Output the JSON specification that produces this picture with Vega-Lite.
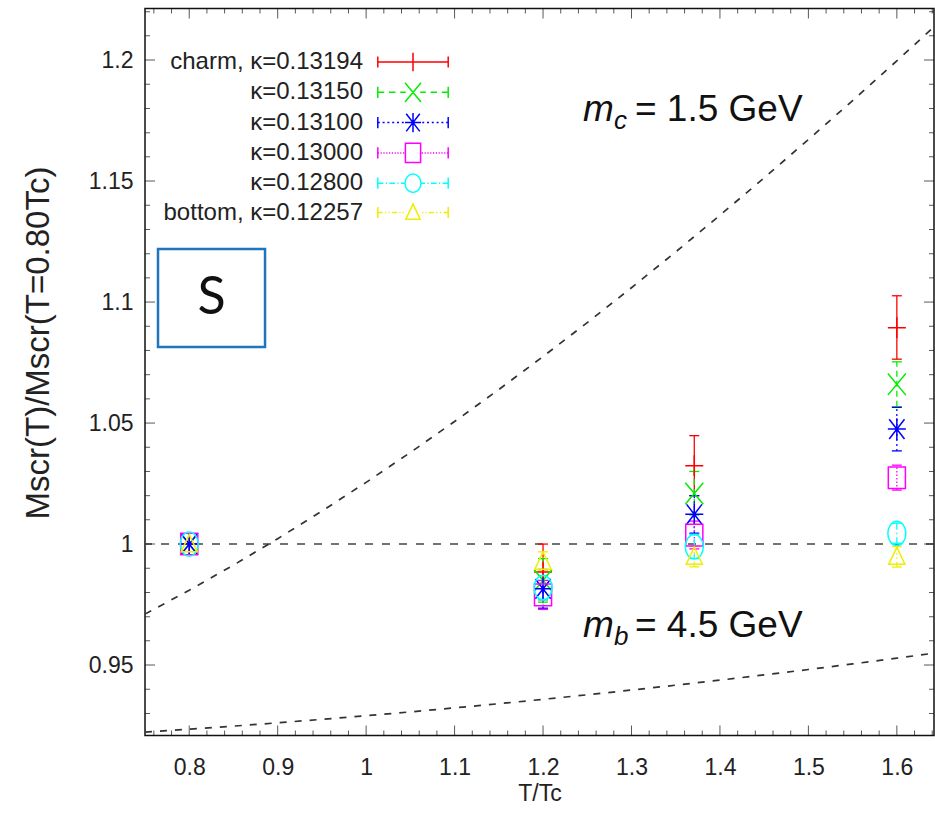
{
  "$schema": "https://vega.github.io/schema/vega-lite/v6.json",
  "width": 789,
  "height": 727,
  "autosize": {"type": "none"},
  "padding": {"left": 145, "top": 8.5, "right": 1, "bottom": 94.5},
  "background": "white",
  "config": {
    "view": {"stroke": "#111", "strokeWidth": 1.5},
    "font": "Liberation Sans"
  },
  "datasets": {
    "ref": [{"v": 1.0}],
    "pts": [
      {"T": 0.8, "v": 1.0, "lo": 1.0, "hi": 1.0, "s": "charm, κ=0.13194"},
      {"T": 0.8, "v": 1.0, "lo": 1.0, "hi": 1.0, "s": "κ=0.13150"},
      {"T": 0.8, "v": 1.0, "lo": 1.0, "hi": 1.0, "s": "κ=0.13100"},
      {"T": 0.8, "v": 1.0, "lo": 1.0, "hi": 1.0, "s": "κ=0.13000"},
      {"T": 0.8, "v": 1.0, "lo": 1.0, "hi": 1.0, "s": "κ=0.12800"},
      {"T": 0.8, "v": 1.0, "lo": 1.0, "hi": 1.0, "s": "bottom, κ=0.12257"},
      {"T": 1.2, "v": 0.9885, "lo": 0.977, "hi": 1.0, "s": "charm, κ=0.13194"},
      {"T": 1.2, "v": 0.985, "lo": 0.976, "hi": 0.994, "s": "κ=0.13150"},
      {"T": 1.2, "v": 0.9815, "lo": 0.9735, "hi": 0.9895, "s": "κ=0.13100"},
      {"T": 1.2, "v": 0.979, "lo": 0.973, "hi": 0.985, "s": "κ=0.13000"},
      {"T": 1.2, "v": 0.982, "lo": 0.977, "hi": 0.987, "s": "κ=0.12800"},
      {"T": 1.2, "v": 0.9928, "lo": 0.9888, "hi": 0.9968, "s": "bottom, κ=0.12257"},
      {"T": 1.371, "v": 1.0324, "lo": 1.02, "hi": 1.0448, "s": "charm, κ=0.13194"},
      {"T": 1.371, "v": 1.0209, "lo": 1.012, "hi": 1.03, "s": "κ=0.13150"},
      {"T": 1.371, "v": 1.0123, "lo": 1.0045, "hi": 1.02, "s": "κ=0.13100"},
      {"T": 1.371, "v": 1.0037, "lo": 0.998, "hi": 1.0095, "s": "κ=0.13000"},
      {"T": 1.371, "v": 0.9989, "lo": 0.994, "hi": 1.004, "s": "κ=0.12800"},
      {"T": 1.371, "v": 0.9948, "lo": 0.9906, "hi": 0.999, "s": "bottom, κ=0.12257"},
      {"T": 1.6, "v": 1.0894, "lo": 1.0764, "hi": 1.1026, "s": "charm, κ=0.13194"},
      {"T": 1.6, "v": 1.066, "lo": 1.0567, "hi": 1.0753, "s": "κ=0.13150"},
      {"T": 1.6, "v": 1.0475, "lo": 1.0385, "hi": 1.0565, "s": "κ=0.13100"},
      {"T": 1.6, "v": 1.0274, "lo": 1.0223, "hi": 1.0326, "s": "κ=0.13000"},
      {"T": 1.6, "v": 1.0044, "lo": 1.0003, "hi": 1.0086, "s": "κ=0.12800"},
      {"T": 1.6, "v": 0.9948, "lo": 0.9905, "hi": 0.999, "s": "bottom, κ=0.12257"}
    ],
    "curves": [
      {"T": 0.75, "v": 0.97106, "c": "charm"},
      {"T": 0.8, "v": 0.98092, "c": "charm"},
      {"T": 0.85, "v": 0.99131, "c": "charm"},
      {"T": 0.9, "v": 1.00222, "c": "charm"},
      {"T": 0.95, "v": 1.01362, "c": "charm"},
      {"T": 1.0, "v": 1.0255, "c": "charm"},
      {"T": 1.05, "v": 1.03785, "c": "charm"},
      {"T": 1.1, "v": 1.05064, "c": "charm"},
      {"T": 1.15, "v": 1.06385, "c": "charm"},
      {"T": 1.2, "v": 1.07749, "c": "charm"},
      {"T": 1.25, "v": 1.09152, "c": "charm"},
      {"T": 1.3, "v": 1.10593, "c": "charm"},
      {"T": 1.35, "v": 1.12072, "c": "charm"},
      {"T": 1.4, "v": 1.13586, "c": "charm"},
      {"T": 1.45, "v": 1.15134, "c": "charm"},
      {"T": 1.5, "v": 1.16715, "c": "charm"},
      {"T": 1.55, "v": 1.18327, "c": "charm"},
      {"T": 1.6, "v": 1.19969, "c": "charm"},
      {"T": 1.642, "v": 1.21371, "c": "charm"},
      {"T": 0.75, "v": 0.9223, "c": "bottom"},
      {"T": 0.8, "v": 0.9235, "c": "bottom"},
      {"T": 0.85, "v": 0.92478, "c": "bottom"},
      {"T": 0.9, "v": 0.92614, "c": "bottom"},
      {"T": 0.95, "v": 0.92757, "c": "bottom"},
      {"T": 1.0, "v": 0.92908, "c": "bottom"},
      {"T": 1.05, "v": 0.93066, "c": "bottom"},
      {"T": 1.1, "v": 0.93231, "c": "bottom"},
      {"T": 1.15, "v": 0.93404, "c": "bottom"},
      {"T": 1.2, "v": 0.93584, "c": "bottom"},
      {"T": 1.25, "v": 0.93772, "c": "bottom"},
      {"T": 1.3, "v": 0.93967, "c": "bottom"},
      {"T": 1.35, "v": 0.94169, "c": "bottom"},
      {"T": 1.4, "v": 0.94378, "c": "bottom"},
      {"T": 1.45, "v": 0.94594, "c": "bottom"},
      {"T": 1.5, "v": 0.94817, "c": "bottom"},
      {"T": 1.55, "v": 0.95048, "c": "bottom"},
      {"T": 1.6, "v": 0.95285, "c": "bottom"},
      {"T": 1.642, "v": 0.9549, "c": "bottom"}
    ],
    "xt": [
      {"T": 0.76, "k": "minor"}, {"T": 0.78, "k": "minor"}, {"T": 0.8, "k": "major"}, {"T": 0.82, "k": "minor"}, {"T": 0.84, "k": "minor"},
      {"T": 0.86, "k": "minor"}, {"T": 0.88, "k": "minor"}, {"T": 0.9, "k": "major"}, {"T": 0.92, "k": "minor"}, {"T": 0.94, "k": "minor"},
      {"T": 0.96, "k": "minor"}, {"T": 0.98, "k": "minor"}, {"T": 1.0, "k": "major"}, {"T": 1.02, "k": "minor"}, {"T": 1.04, "k": "minor"},
      {"T": 1.06, "k": "minor"}, {"T": 1.08, "k": "minor"}, {"T": 1.1, "k": "major"}, {"T": 1.12, "k": "minor"}, {"T": 1.14, "k": "minor"},
      {"T": 1.16, "k": "minor"}, {"T": 1.18, "k": "minor"}, {"T": 1.2, "k": "major"}, {"T": 1.22, "k": "minor"}, {"T": 1.24, "k": "minor"},
      {"T": 1.26, "k": "minor"}, {"T": 1.28, "k": "minor"}, {"T": 1.3, "k": "major"}, {"T": 1.32, "k": "minor"}, {"T": 1.34, "k": "minor"},
      {"T": 1.36, "k": "minor"}, {"T": 1.38, "k": "minor"}, {"T": 1.4, "k": "major"}, {"T": 1.42, "k": "minor"}, {"T": 1.44, "k": "minor"},
      {"T": 1.46, "k": "minor"}, {"T": 1.48, "k": "minor"}, {"T": 1.5, "k": "major"}, {"T": 1.52, "k": "minor"}, {"T": 1.54, "k": "minor"},
      {"T": 1.56, "k": "minor"}, {"T": 1.58, "k": "minor"}, {"T": 1.6, "k": "major"}, {"T": 1.62, "k": "minor"}, {"T": 1.64, "k": "minor"}
    ],
    "yt": [
      {"v": 0.93, "k": "minor"}, {"v": 0.94, "k": "minor"}, {"v": 0.95, "k": "major"}, {"v": 0.96, "k": "minor"}, {"v": 0.97, "k": "minor"},
      {"v": 0.98, "k": "minor"}, {"v": 0.99, "k": "minor"}, {"v": 1.0, "k": "major"}, {"v": 1.01, "k": "minor"}, {"v": 1.02, "k": "minor"},
      {"v": 1.03, "k": "minor"}, {"v": 1.04, "k": "minor"}, {"v": 1.05, "k": "major"}, {"v": 1.06, "k": "minor"}, {"v": 1.07, "k": "minor"},
      {"v": 1.08, "k": "minor"}, {"v": 1.09, "k": "minor"}, {"v": 1.1, "k": "major"}, {"v": 1.11, "k": "minor"}, {"v": 1.12, "k": "minor"},
      {"v": 1.13, "k": "minor"}, {"v": 1.14, "k": "minor"}, {"v": 1.15, "k": "major"}, {"v": 1.16, "k": "minor"}, {"v": 1.17, "k": "minor"},
      {"v": 1.18, "k": "minor"}, {"v": 1.19, "k": "minor"}, {"v": 1.2, "k": "major"}, {"v": 1.21, "k": "minor"}, {"v": 1.22, "k": "minor"}
    ],
    "box": [
      {"T": 0.7647, "T2": 0.8857, "v": 1.1219, "v2": 1.0814, "cT": 0.8252, "cv": 1.1016, "label": "S"}
    ],
    "ann": [
      {"T": 1.2451, "v": 1.1748, "sub": "c", "rest": "= 1.5 GeV"},
      {"T": 1.2451, "v": 0.96157, "sub": "b", "rest": "= 4.5 GeV"}
    ]
  },
  "layer": [
    {
      "data": {"name": "pts"},
      "transform": [{"filter": "false"}],
      "mark": {"type": "point", "size": 256, "filled": false, "strokeWidth": 1.5, "opacity": 1},
      "encoding": {
        "x": {"field": "T", "type": "quantitative", "scale": {"domain": [0.75, 1.642], "nice": false, "zero": false}, "axis": null},
        "y": {"field": "v", "type": "quantitative", "scale": {"domain": [0.9209, 1.2213], "nice": false, "zero": false}, "axis": null},
        "shape": {"field": "s", "type": "nominal",
          "scale": {"domain": ["charm, κ=0.13194","κ=0.13150","κ=0.13100","κ=0.13000","κ=0.12800","bottom, κ=0.12257"],
                    "range": ["M-4.4,0H4.4M-4.4,-0.7V0.7M4.4,-0.7V0.7M-1,0H1M0,-1.15V1.15",
                              "M-4.4,0H-3.6M-3,0H-2.2M-1.6,0H-0.9M0.9,0H1.6M2.2,0H3M3.6,0H4.4M-4.4,-0.7V0.7M4.4,-0.7V0.7M-1,-1.2L1,1.2M-1,1.2L1,-1.2",
                              "M-4.4,0H-4.15M-3.8,0H-3.55M-3.2,0H-2.95M-2.6,0H-2.35M-2,0H-1.75M-1.4,0H-1.15M1.15,0H1.4M1.75,0H2M2.35,0H2.6M2.95,0H3.2M3.55,0H3.8M4.15,0H4.4M-4.4,-0.7V0.7M4.4,-0.7V0.7M-1,0H1M0,-1.2V1.2M-0.85,-1.1L0.85,1.1M-0.85,1.1L0.85,-1.1",
                              "M-4.4,0H-4.25M-4.05,0H-3.9M-3.7,0H-3.55M-3.35,0H-3.2M-3,0H-2.85M-2.65,0H-2.5M-2.3,0H-2.15M-1.95,0H-1.8M-1.6,0H-1.45M-1.25,0H-1.1M1.1,0H1.25M1.45,0H1.6M1.8,0H1.95M2.15,0H2.3M2.5,0H2.65M2.85,0H3M3.2,0H3.35M3.55,0H3.7M3.9,0H4.05M4.25,0H4.4M-4.4,-0.7V0.7M4.4,-0.7V0.7M-0.95,-1.2H0.95V1.2H-0.95Z",
                              "M-4.4,0H-3.7M-3.4,0H-3.25M-2.95,0H-2.25M-1.95,0H-1.8M-1.5,0H-1M1,0H1.5M1.8,0H1.95M2.25,0H2.95M3.25,0H3.4M3.7,0H4.4M-4.4,-0.7V0.7M4.4,-0.7V0.7M-1,0A1,1.15,0,1,0,1,0A1,1.15,0,1,0,-1,0Z",
                              "M-4.4,0H-3.8M-3.5,0H-3.35M-3.05,0H-2.9M-2.6,0H-2M-1.7,0H-1.55M-1.3,0H-1.15M1.15,0H1.3M1.55,0H1.7M2,0H2.6M2.9,0H3.05M3.35,0H3.5M3.8,0H4.4M-4.4,-0.7V0.7M4.4,-0.7V0.7M0,-1.05L0.9,0.85H-0.9Z"]}},
        "color": {"field": "s", "type": "nominal",
          "scale": {"domain": ["charm, κ=0.13194","κ=0.13150","κ=0.13100","κ=0.13000","κ=0.12800","bottom, κ=0.12257"],
                    "range": ["#ff0000","#00ee00","#0000ff","#ff00ff","#00ffff","#eeee00"]},
          "legend": {
            "orient": "none",
            "legendX": 256,
            "legendY": 41.5,
            "title": null,
            "padding": 0,
            "labelFont": "Liberation Sans",
            "labelFontSize": 24,
            "labelColor": "#222",
            "labelAlign": "right",
            "labelOffset": -62,
            "labelLimit": 400,
            "symbolSize": 256,
            "symbolStrokeWidth": 1.5,
            "rowPadding": 4.3
          }
        }
      }
    },
    {
      "data": {"name": "ref"},
      "mark": {"type": "rule", "strokeDash": [8, 9], "color": "#444", "strokeWidth": 1.6},
      "encoding": {
        "y": {"field": "v", "type": "quantitative", "scale": {"domain": [0.9209, 1.2213], "nice": false, "zero": false}, "axis": null}
      }
    },
    {
      "data": {"name": "curves"},
      "mark": {"type": "line", "strokeDash": [7, 8], "color": "#333", "strokeWidth": 1.7, "clip": true},
      "encoding": {
        "x": {
          "field": "T", "type": "quantitative",
          "scale": {"domain": [0.75, 1.642], "nice": false, "zero": false},
          "axis": {
            "orient": "bottom",
            "values": [0.8, 0.9, 1.0, 1.1, 1.2, 1.3, 1.4, 1.5, 1.6],
            "labelExpr": "format(datum.value, '.1~f')",
            "ticks": false,
            "tickSize": 0,
            "domain": false,
            "grid": false,
            "labelOverlap": false,
            "labelFlush": false,
            "labelBound": false,
            "labelFont": "Liberation Sans",
            "labelFontSize": 23,
            "labelColor": "#222",
            "labelPadding": 21,
            "title": "T/Tc",
            "titleFont": "Liberation Sans",
            "titleFontSize": 23,
            "titleFontWeight": "normal",
            "titleColor": "#222",
            "titlePadding": 3
          }
        },
        "y": {
          "field": "v", "type": "quantitative",
          "scale": {"domain": [0.9209, 1.2213], "nice": false, "zero": false},
          "axis": {
            "orient": "left",
            "values": [0.95, 1.0, 1.05, 1.1, 1.15, 1.2],
            "labelExpr": "format(datum.value, '.2~f')",
            "ticks": false,
            "tickSize": 0,
            "domain": false,
            "grid": false,
            "labelOverlap": false,
            "labelFlush": false,
            "labelBound": false,
            "labelFont": "Liberation Sans",
            "labelFontSize": 23,
            "labelColor": "#222",
            "labelPadding": 12,
            "title": "Mscr(T)/Mscr(T=0.80Tc)",
            "titleFont": "Liberation Sans",
            "titleFontSize": 33,
            "titleFontWeight": "normal",
            "titleColor": "#222",
            "titleBaseline": "middle",
            "titleX": -107,
            "titleY": 334
          }
        },
        "detail": {"field": "c"}
      }
    },
    {
      "data": {"name": "xt"},
      "mark": {"type": "tick", "orient": "vertical", "thickness": 1, "color": "#111", "clip": true},
      "encoding": {
        "x": {"field": "T", "type": "quantitative", "scale": {"domain": [0.75, 1.642], "nice": false, "zero": false}, "axis": null},
        "y": {"datum": 0.9209, "type": "quantitative", "scale": {"domain": [0.9209, 1.2213], "nice": false, "zero": false}, "axis": null},
        "size": {"field": "k", "type": "nominal", "scale": {"domain": ["major", "minor"], "range": [20, 10]}, "legend": null}
      }
    },
    {
      "data": {"name": "xt"},
      "mark": {"type": "tick", "orient": "vertical", "thickness": 1, "color": "#111", "clip": true},
      "encoding": {
        "x": {"field": "T", "type": "quantitative", "scale": {"domain": [0.75, 1.642], "nice": false, "zero": false}, "axis": null},
        "y": {"datum": 1.2213, "type": "quantitative", "scale": {"domain": [0.9209, 1.2213], "nice": false, "zero": false}, "axis": null},
        "size": {"field": "k", "type": "nominal", "legend": null}
      }
    },
    {
      "data": {"name": "yt"},
      "mark": {"type": "tick", "orient": "horizontal", "thickness": 1, "color": "#111", "clip": true},
      "encoding": {
        "y": {"field": "v", "type": "quantitative", "scale": {"domain": [0.9209, 1.2213], "nice": false, "zero": false}, "axis": null},
        "x": {"datum": 0.75, "type": "quantitative", "scale": {"domain": [0.75, 1.642], "nice": false, "zero": false}, "axis": null},
        "size": {"field": "k", "type": "nominal", "legend": null}
      }
    },
    {
      "data": {"name": "yt"},
      "mark": {"type": "tick", "orient": "horizontal", "thickness": 1, "color": "#111", "clip": true},
      "encoding": {
        "y": {"field": "v", "type": "quantitative", "scale": {"domain": [0.9209, 1.2213], "nice": false, "zero": false}, "axis": null},
        "x": {"datum": 1.642, "type": "quantitative", "scale": {"domain": [0.75, 1.642], "nice": false, "zero": false}, "axis": null},
        "size": {"field": "k", "type": "nominal", "legend": null}
      }
    },
    {
      "data": {"name": "pts"},
      "mark": {"type": "rule", "strokeWidth": 1.3},
      "encoding": {
        "x": {"field": "T", "type": "quantitative", "scale": {"domain": [0.75, 1.642], "nice": false, "zero": false}, "axis": null},
        "y": {"field": "lo", "type": "quantitative", "scale": {"domain": [0.9209, 1.2213], "nice": false, "zero": false}, "axis": null},
        "y2": {"field": "hi"},
        "color": {"field": "s", "type": "nominal", "legend": null,
          "scale": {"domain": ["charm, κ=0.13194","κ=0.13150","κ=0.13100","κ=0.13000","κ=0.12800","bottom, κ=0.12257"],
                    "range": ["#ff0000","#00ee00","#0000ff","#ff00ff","#00ffff","#eeee00"]}},
        "strokeDash": {"field": "s", "type": "nominal", "legend": null,
          "scale": {"domain": ["charm, κ=0.13194","κ=0.13150","κ=0.13100","κ=0.13000","κ=0.12800","bottom, κ=0.12257"],
                    "range": [[1,0],[6,4],[2,3],[1.5,2],[6,3,1.5,3],[5,3,1.5,3,1.5,3]]}}
      }
    },
    {
      "data": {"name": "pts"},
      "mark": {"type": "point", "shape": "M-1,0H1", "size": 100, "filled": false, "strokeWidth": 1.3, "opacity": 1},
      "encoding": {
        "x": {"field": "T", "type": "quantitative", "scale": {"domain": [0.75, 1.642], "nice": false, "zero": false}, "axis": null},
        "y": {"field": "lo", "type": "quantitative", "scale": {"domain": [0.9209, 1.2213], "nice": false, "zero": false}, "axis": null},
        "color": {"field": "s", "type": "nominal", "legend": null,
          "scale": {"domain": ["charm, κ=0.13194","κ=0.13150","κ=0.13100","κ=0.13000","κ=0.12800","bottom, κ=0.12257"],
                    "range": ["#ff0000","#00ee00","#0000ff","#ff00ff","#00ffff","#eeee00"]}}
      }
    },
    {
      "data": {"name": "pts"},
      "mark": {"type": "point", "shape": "M-1,0H1", "size": 100, "filled": false, "strokeWidth": 1.3, "opacity": 1},
      "encoding": {
        "x": {"field": "T", "type": "quantitative", "scale": {"domain": [0.75, 1.642], "nice": false, "zero": false}, "axis": null},
        "y": {"field": "hi", "type": "quantitative", "scale": {"domain": [0.9209, 1.2213], "nice": false, "zero": false}, "axis": null},
        "color": {"field": "s", "type": "nominal", "legend": null,
          "scale": {"domain": ["charm, κ=0.13194","κ=0.13150","κ=0.13100","κ=0.13000","κ=0.12800","bottom, κ=0.12257"],
                    "range": ["#ff0000","#00ee00","#0000ff","#ff00ff","#00ffff","#eeee00"]}}
      }
    },
    {
      "data": {"name": "pts"},
      "mark": {"type": "point", "size": 324, "filled": false, "strokeWidth": 1.5, "opacity": 1},
      "encoding": {
        "x": {"field": "T", "type": "quantitative", "scale": {"domain": [0.75, 1.642], "nice": false, "zero": false}, "axis": null},
        "y": {"field": "v", "type": "quantitative", "scale": {"domain": [0.9209, 1.2213], "nice": false, "zero": false}, "axis": null},
        "shape": {"field": "s", "type": "nominal", "legend": null,
          "scale": {"domain": ["charm, κ=0.13194","κ=0.13150","κ=0.13100","κ=0.13000","κ=0.12800","bottom, κ=0.12257"],
                    "range": ["M-1,0H1M0,-1.15V1.15",
                              "M-1,-1.2L1,1.2M-1,1.2L1,-1.2",
                              "M-1,0H1M0,-1.2V1.2M-0.85,-1.1L0.85,1.1M-0.85,1.1L0.85,-1.1",
                              "M-0.95,-1.2H0.95V1.2H-0.95Z",
                              "M-1,0A1,1.35,0,1,0,1,0A1,1.35,0,1,0,-1,0Z",
                              "M0,-1.05L0.9,0.85H-0.9Z"]}},
        "color": {"field": "s", "type": "nominal", "legend": null,
          "scale": {"domain": ["charm, κ=0.13194","κ=0.13150","κ=0.13100","κ=0.13000","κ=0.12800","bottom, κ=0.12257"],
                    "range": ["#ff0000","#00ee00","#0000ff","#ff00ff","#00ffff","#eeee00"]}}
      }
    },
    {
      "data": {"name": "box"},
      "mark": {"type": "rect", "fill": "white", "stroke": "#1f74bd", "strokeWidth": 2.5},
      "encoding": {
        "x": {"field": "T", "type": "quantitative", "scale": {"domain": [0.75, 1.642], "nice": false, "zero": false}, "axis": null},
        "x2": {"field": "T2"},
        "y": {"field": "v", "type": "quantitative", "scale": {"domain": [0.9209, 1.2213], "nice": false, "zero": false}, "axis": null},
        "y2": {"field": "v2"}
      }
    },
    {
      "data": {"name": "box"},
      "mark": {"type": "text", "font": "Lato", "fontStyle": "normal", "fontSize": 52, "color": "#111", "align": "center", "baseline": "middle"},
      "encoding": {
        "x": {"field": "cT", "type": "quantitative", "scale": {"domain": [0.75, 1.642], "nice": false, "zero": false}, "axis": null},
        "y": {"field": "cv", "type": "quantitative", "scale": {"domain": [0.9209, 1.2213], "nice": false, "zero": false}, "axis": null},
        "text": {"field": "label"}
      }
    },
    {
      "data": {"name": "ann"},
      "mark": {"type": "text", "text": "m", "font": "Liberation Sans", "fontStyle": "italic", "fontSize": 37, "color": "#111", "align": "left", "baseline": "alphabetic"},
      "encoding": {
        "x": {"field": "T", "type": "quantitative", "scale": {"domain": [0.75, 1.642], "nice": false, "zero": false}, "axis": null},
        "y": {"field": "v", "type": "quantitative", "scale": {"domain": [0.9209, 1.2213], "nice": false, "zero": false}, "axis": null}
      }
    },
    {
      "data": {"name": "ann"},
      "mark": {"type": "text", "font": "Liberation Sans", "fontStyle": "italic", "fontSize": 26, "color": "#111", "align": "left", "baseline": "alphabetic", "dx": 31, "dy": 8},
      "encoding": {
        "x": {"field": "T", "type": "quantitative", "scale": {"domain": [0.75, 1.642], "nice": false, "zero": false}, "axis": null},
        "y": {"field": "v", "type": "quantitative", "scale": {"domain": [0.9209, 1.2213], "nice": false, "zero": false}, "axis": null},
        "text": {"field": "sub"}
      }
    },
    {
      "data": {"name": "ann"},
      "mark": {"type": "text", "font": "Liberation Sans", "fontSize": 37, "color": "#111", "align": "left", "baseline": "alphabetic", "dx": 52},
      "encoding": {
        "x": {"field": "T", "type": "quantitative", "scale": {"domain": [0.75, 1.642], "nice": false, "zero": false}, "axis": null},
        "y": {"field": "v", "type": "quantitative", "scale": {"domain": [0.9209, 1.2213], "nice": false, "zero": false}, "axis": null},
        "text": {"field": "rest"}
      }
    }
  ],
  "resolve": {
    "scale": {"color": "independent", "shape": "independent"},
    "axis": {"x": "independent", "y": "independent"}
  }
}
